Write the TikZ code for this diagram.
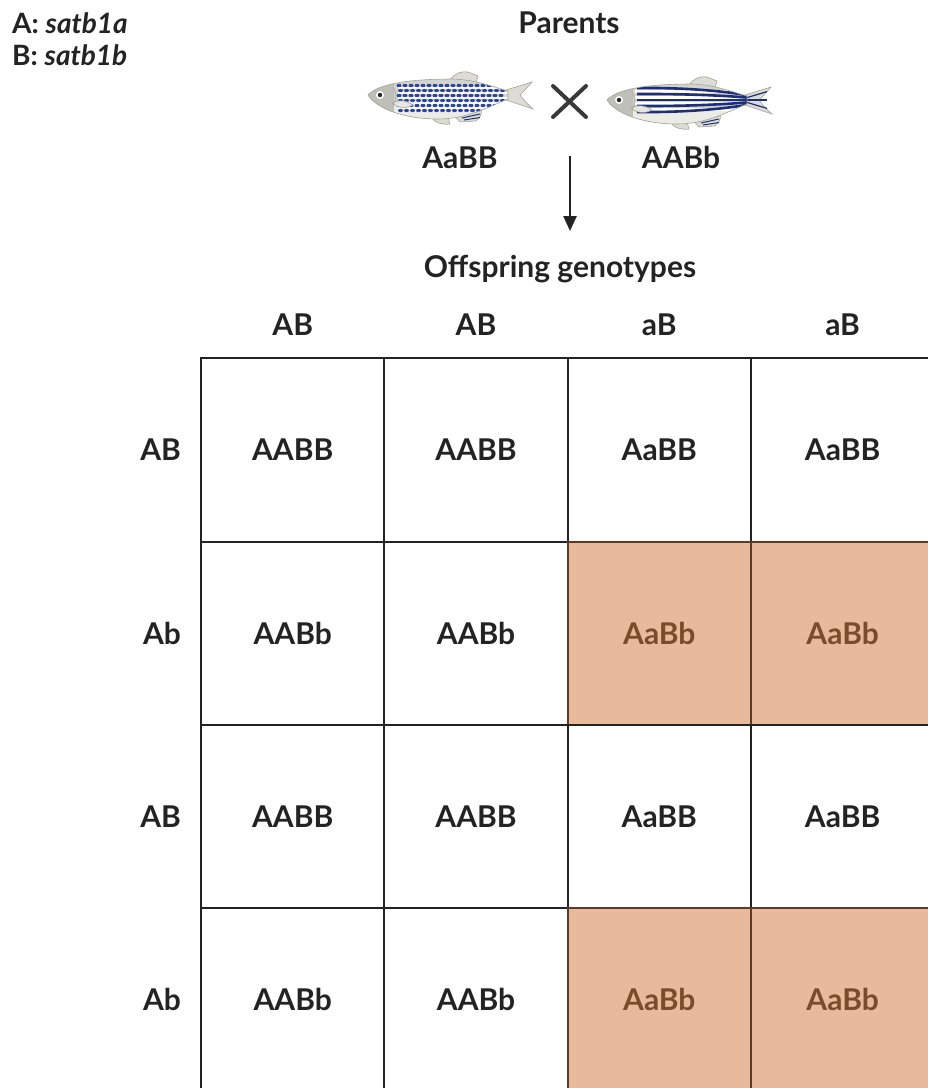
\documentclass[tikz,border=0pt]{standalone}
\usepackage{fontspec}
\setmainfont{Lato}
\usetikzlibrary{positioning,arrows.meta}

\definecolor{ink}{HTML}{232323}
\definecolor{peach}{HTML}{E8B99B}
\definecolor{rust}{HTML}{7B4B2C}
\definecolor{rustline}{HTML}{5E3B27}
\definecolor{finedge}{HTML}{A3A39B}
\definecolor{fingray}{HTML}{DCDCD4}
\definecolor{headgray}{HTML}{BEBFB8}
\definecolor{bodygray}{HTML}{D3D4CD}
\definecolor{belly}{HTML}{ECECE6}
\definecolor{spotblue}{HTML}{2B45A0}
\definecolor{stripeblue}{HTML}{1E2F78}

% outline of a fish, snout at the origin
\newcommand\fishoutline{(0,0) .. controls (10,-11) and (40,-16) .. (85,-16)
  .. controls (110,-15) and (128,-7) .. (140,-4) -- (140,4)
  .. controls (122,11) and (100,24) .. (70,24)
  .. controls (35,24) and (8,13) .. (0,0) -- cycle}

\tikzset{
  finline/.style={draw=finedge, line width=0.6pt},
  % fins, tail and body base shared by both parents
  fishbase/.pic={
    \filldraw[finline, fill=fingray] (138,-5) -- (164,-13)
      .. controls (158,-6) and (154,-2) .. (152,0)
      .. controls (155,4) and (159,9) .. (165,14) -- (138,5) -- cycle;
    \filldraw[finline, fill=fingray] (82,-15) .. controls (87,-22) and (93,-24) .. (100,-23)
      -- (110,-19) -- (108,-12) -- cycle;
    \filldraw[finline, fill=fingray] (63,22) .. controls (67,28) and (74,30) .. (82,29)
      -- (80,22) -- cycle;
    \filldraw[finline, fill=fingray] (84,18) -- (112,9) .. controls (115,15) and (114,22) .. (108,26)
      -- (92,27) -- cycle;
    \foreach \s in {0,1,2,3}
      \draw[stripeblue, line width=1pt] (90+\s*2,{19+\s*2}) -- (112,{12+\s*3.5});
    \fill[bodygray] \fishoutline;
  },
  % head details drawn on top of the pattern
  fishhead/.pic={
    \draw[finline] \fishoutline;
    \filldraw[finline, fill=fingray!70!white] (24,8) .. controls (31,4) and (40,6) .. (45,10)
      .. controls (38,14) and (29,13) .. (24,8) -- cycle;
    \draw[finline] (25,-8) .. controls (29,-2) and (29,4) .. (25,10);
    \fill[white] (12,0) circle (4);
    \fill[black!85] (12,0) circle (2.2);
  },
  cell/.style={draw=ink, line width=2pt, minimum size=183.3pt, inner sep=0pt},
  hit/.style={cell, fill=peach, draw=rustline, text=rust},
  lbl/.style={inner sep=0pt}
}

\begin{document}
\begin{tikzpicture}[x=1pt, y=-1pt, font=\fontsize{30}{36}\selectfont\bfseries, text=ink]
  \clip (0,0) rectangle (928,1088);

  % gene key
  \node[lbl, anchor=base west, font=\fontsize{28}{32}\selectfont\bfseries] (keyA) at (12,33) {A: \textit{satb1a}};
  \node[lbl, anchor=base west, font=\fontsize{28}{32}\selectfont\bfseries] (keyB) at (12,65) {B: \textit{satb1b}};

  \node[lbl, anchor=base] (parents) at (569,33) {Parents};

  % spotted parent
  \begin{scope}[shift={(368,95)}]
    \pic {fishbase};
    \begin{scope}
      \clip \fishoutline;
      \fill[belly] (0,6) rectangle (140,30);
      \fill[headgray] (0,-20) rectangle (26,30);
      \foreach \y in {-7.5,-2.5,2.5,7.5,12.5}
        \draw[white, line width=2pt] (30,\y) -- (140,\y);
      \foreach \y in {-10,-5,0,5,10,15}
        \foreach \x in {31,37,...,135}
          \fill[spotblue] ({\x+mod(\y+20,10)*0.3},{\y+mod(\x,3)*0.5}) ellipse (2.4 and 1.7);
    \end{scope}
    \pic {fishhead};
  \end{scope}

  % striped parent
  \begin{scope}[shift={(607,100)}]
    \pic {fishbase};
    \begin{scope}
      \clip \fishoutline;
      \fill[belly] (0,8) rectangle (140,30);
      \fill[headgray] (0,-20) rectangle (26,30);
      \foreach \y in {-9,-3,3,9}
        \draw[white, line width=3pt] (28,\y) -- (140,\y);
      \foreach \y in {-12,-6,0,6,12}
        \draw[stripeblue, line width=2.6pt] (30,\y) .. controls (80,{\y*1.05}) and (120,{\y*0.7}) .. (140,{\y*0.4});
    \end{scope}
    \foreach \y in {-6,0,6}
      \draw[stripeblue, line width=1.2pt] (140,{\y*0.4}) -- (160,{\y*1.4});
    \pic {fishhead};
  \end{scope}

  % cross between the parents
  \draw[ink!90, line width=4pt, line cap=round] (553,86) -- (586,117) (553,117) -- (586,86);

  \node[lbl, anchor=base] (momgeno) at (460,168) {AaBB};
  \node[lbl, anchor=base] (dadgeno) at (681,168) {AABb};

  \coordinate (arrowtop) at (570,156);
  \coordinate (arrowtip) at (570,231);
  \draw[ink, line width=2.5pt, -{Triangle[width=13pt,length=15pt]}] (arrowtop) -- (arrowtip);

  \node[lbl, anchor=base] (offspring) at (560,277) {Offspring genotypes};

  % Punnett square
  \foreach \g/\s [count=\i from 0] in {AABB/cell,AABB/cell,AaBB/cell,AaBB/cell,
      AABb/cell,AABb/cell,AaBb/hit,AaBb/hit,
      AABB/cell,AABB/cell,AaBB/cell,AaBB/cell,
      AABb/cell,AABb/cell,AaBb/hit,AaBb/hit}{
    \pgfmathtruncatemacro\r{div(\i,4)+1}
    \pgfmathtruncatemacro\c{mod(\i,4)+1}
    \node[\s] (g\r\c) at ({292.7+183.3*(\c-1)},{450+183.3*(\r-1)}) {\g};
  }

  % gametes
  \foreach \a [count=\c] in {AB,AB,aB,aB}
    \node[lbl, above=22pt of g1\c.north, anchor=base] (top\c) {\a};
  \foreach \a [count=\r] in {AB,Ab,AB,Ab}
    \node[lbl, left=19pt of g\r1.west] (side\r) {\a};
\end{tikzpicture}
\end{document}
